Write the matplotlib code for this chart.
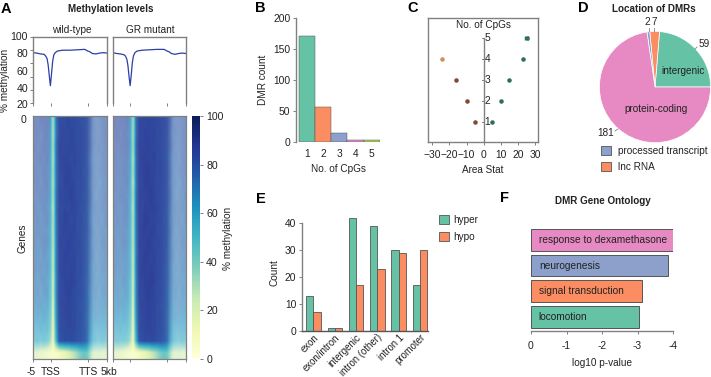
import matplotlib
matplotlib.use('Agg')
import matplotlib.pyplot as plt
from matplotlib.lines import Line2D
from matplotlib.patches import Patch
import numpy as np

W, H = 711, 377
plt.rcParams['font.family'] = ['Liberation Sans', 'DejaVu Sans']
plt.rcParams['font.size'] = 7

###############################################################################

GREEN = '#66c2a5'
ORANGE = '#fc8d62'
BLUE = '#8da0cb'
PINK = '#e78ac3'
LIME = '#a6d854'
GREY = '#808080'
EDGE = '#555555'

# Panel A: average profile, x is % of the plot width
line_x = [0, 5, 10, 15, 17, 19, 20.5, 22, 23.5, 25, 26.5, 28, 30, 33, 40, 50,
          60, 70, 74, 77, 80, 85, 90, 95, 100]
wt_line = [81, 80.5, 79.5, 79, 77, 74, 66, 53, 41, 55, 70, 78, 81, 83, 84, 84,
           84.5, 85, 83, 82, 80, 79.5, 80.5, 81, 80.5]
gr_line = [81, 80, 79.5, 78.5, 77, 73, 65, 52, 41, 54, 69, 77, 81, 83, 84, 84.5,
           85, 85, 83, 82, 80, 79, 80, 80.5, 80]
gene_ticks = [0, 23.7, 74.4, 100]

# Panel A: coarse heatmap estimates (the single-row speckle can't be read off)
wt_heat = [
    [82, 80, 84, 82, 80, 74, 30, 74, 83, 84, 83, 85, 83, 84, 83, 82, 83, 82, 82, 78, 76, 78, 80, 78],
    [80, 82, 78, 80, 80, 72, 28, 72, 83, 85, 84, 83, 85, 83, 82, 84, 83, 82, 80, 76, 78, 76, 78, 80],
    [82, 78, 80, 82, 78, 72, 30, 76, 85, 85, 83, 84, 85, 84, 83, 83, 84, 82, 82, 78, 76, 80, 76, 78],
    [78, 80, 82, 78, 80, 70, 28, 74, 84, 86, 85, 84, 83, 85, 84, 83, 83, 81, 78, 74, 76, 74, 78, 76],
    [80, 78, 78, 80, 76, 70, 30, 74, 83, 85, 85, 86, 84, 83, 83, 84, 82, 82, 80, 76, 74, 78, 76, 78],
    [78, 80, 76, 78, 78, 68, 28, 72, 83, 84, 86, 85, 85, 84, 82, 83, 83, 81, 78, 74, 76, 72, 76, 74],
    [76, 78, 80, 76, 76, 68, 30, 74, 85, 85, 84, 85, 86, 84, 83, 83, 82, 81, 80, 76, 72, 76, 74, 78],
    [78, 74, 76, 78, 74, 66, 26, 74, 83, 84, 85, 83, 85, 85, 84, 82, 83, 80, 78, 74, 76, 74, 76, 74],
    [76, 78, 74, 74, 76, 66, 28, 72, 84, 85, 86, 85, 83, 84, 83, 83, 81, 81, 76, 72, 74, 76, 72, 76],
    [74, 76, 76, 74, 72, 64, 26, 72, 83, 86, 85, 84, 85, 85, 83, 82, 82, 80, 78, 74, 72, 74, 74, 72],
    [76, 72, 74, 76, 74, 64, 26, 70, 85, 85, 84, 86, 85, 83, 84, 83, 81, 80, 76, 72, 74, 72, 76, 74],
    [72, 74, 72, 74, 70, 62, 24, 70, 83, 85, 86, 85, 84, 85, 83, 82, 82, 79, 76, 74, 70, 74, 72, 72],
    [74, 72, 74, 70, 72, 62, 24, 70, 84, 86, 85, 84, 85, 84, 83, 83, 81, 79, 74, 70, 72, 70, 74, 72],
    [72, 70, 72, 72, 68, 60, 22, 68, 83, 85, 85, 85, 86, 85, 83, 82, 81, 78, 74, 72, 70, 72, 70, 70],
    [70, 72, 68, 70, 70, 58, 22, 68, 84, 84, 85, 86, 85, 83, 83, 82, 81, 77, 72, 70, 72, 68, 72, 70],
    [68, 68, 70, 66, 66, 56, 20, 66, 83, 85, 84, 85, 84, 84, 82, 81, 80, 77, 72, 68, 68, 70, 68, 68],
    [64, 66, 64, 66, 62, 52, 18, 64, 82, 84, 84, 85, 84, 83, 82, 82, 80, 76, 70, 66, 68, 66, 66, 64],
    [60, 58, 62, 58, 58, 48, 16, 60, 82, 84, 83, 84, 84, 83, 82, 81, 80, 76, 68, 62, 60, 62, 60, 60],
    [54, 56, 52, 54, 50, 40, 14, 54, 80, 82, 83, 82, 83, 82, 81, 80, 79, 75, 64, 58, 56, 54, 56, 52],
    [20, 22, 18, 16, 14, 10, 4, 6, 8, 12, 14, 18, 24, 28, 34, 40, 44, 44, 34, 24, 22, 24, 20, 22],
]
gr_heat = [
    [84, 82, 84, 80, 82, 72, 32, 76, 85, 86, 84, 85, 85, 84, 85, 83, 84, 83, 82, 78, 78, 80, 78, 80],
    [82, 84, 80, 82, 78, 70, 30, 76, 85, 85, 86, 85, 84, 85, 83, 84, 83, 83, 80, 76, 80, 76, 80, 78],
    [80, 80, 82, 80, 80, 70, 32, 78, 86, 86, 85, 86, 85, 84, 85, 83, 84, 82, 82, 78, 76, 78, 78, 80],
    [82, 78, 80, 78, 78, 68, 28, 76, 85, 87, 86, 85, 85, 86, 84, 84, 83, 82, 78, 74, 78, 74, 80, 76],
    [78, 80, 78, 80, 76, 68, 30, 76, 85, 86, 86, 87, 85, 85, 84, 85, 83, 83, 80, 76, 74, 78, 76, 78],
    [80, 76, 78, 76, 78, 66, 26, 74, 85, 85, 87, 86, 86, 85, 83, 84, 84, 82, 78, 74, 76, 72, 78, 74],
    [76, 78, 80, 78, 74, 66, 30, 76, 86, 86, 85, 86, 87, 85, 84, 84, 83, 82, 80, 76, 72, 76, 74, 78],
    [78, 76, 76, 76, 76, 64, 26, 76, 85, 85, 86, 85, 86, 86, 85, 83, 84, 81, 78, 74, 76, 74, 76, 74],
    [76, 78, 74, 76, 74, 64, 28, 74, 85, 86, 87, 86, 85, 85, 84, 84, 82, 82, 76, 74, 74, 76, 72, 76],
    [74, 74, 76, 74, 72, 62, 26, 74, 85, 87, 86, 85, 86, 86, 84, 83, 83, 81, 78, 74, 72, 74, 74, 72],
    [76, 72, 74, 76, 72, 62, 26, 72, 86, 86, 85, 87, 86, 84, 85, 84, 82, 81, 76, 72, 74, 72, 76, 74],
    [72, 74, 72, 72, 70, 60, 24, 72, 85, 86, 87, 86, 85, 86, 84, 83, 83, 80, 76, 74, 70, 74, 72, 72],
    [74, 72, 72, 70, 70, 60, 24, 72, 85, 87, 86, 85, 86, 85, 84, 84, 82, 80, 74, 70, 72, 70, 74, 72],
    [72, 70, 70, 72, 68, 58, 22, 70, 85, 86, 86, 86, 87, 86, 84, 83, 82, 79, 74, 72, 70, 72, 70, 70],
    [70, 70, 68, 68, 68, 56, 22, 70, 85, 85, 86, 87, 86, 84, 84, 83, 82, 78, 72, 70, 72, 68, 72, 70],
    [66, 68, 68, 66, 64, 54, 20, 68, 84, 86, 85, 86, 85, 85, 83, 82, 81, 78, 72, 68, 68, 70, 68, 68],
    [64, 64, 62, 64, 60, 50, 18, 66, 83, 85, 85, 86, 85, 84, 83, 83, 81, 77, 70, 66, 68, 66, 66, 64],
    [58, 58, 60, 56, 56, 46, 16, 62, 83, 85, 84, 85, 85, 84, 83, 82, 81, 77, 68, 62, 60, 62, 60, 60],
    [52, 54, 52, 52, 48, 38, 14, 56, 81, 83, 84, 83, 84, 83, 82, 81, 80, 76, 64, 58, 56, 54, 56, 52],
    [18, 20, 18, 14, 12, 8, 4, 6, 8, 12, 14, 18, 24, 28, 34, 40, 44, 44, 34, 24, 22, 24, 20, 22],
]
# share of white (no-coverage) cells in each heatmap column
white_share = [.38, .38, .38, .36, .34, .3, .1, .12, .06, .06, .05, .05, .05, .05,
               .06, .06, .08, .1, .22, .38, .42, .42, .4, .38]

# Panel B
cpg_counts = [1, 2, 3, 4, 5]
dmr_counts = [171, 56, 14, 4, 4]

# Panel C
area_hypo = [-5, -10, -16, -24]
area_hypo_cpg = [1, 2, 3, 4]
area_hyper = [5, 10, 15, 23, 25]
area_hyper_cpg = [1, 2, 3, 4, 5]

# Panel D
pie_values = [59, 7, 2, 181]

# Panel E
region_names = ['exon', 'exon/intron', 'intergenic', 'intron (other)',
                'intron 1', 'promoter']
hyper_counts = [13, 1, 42, 39, 30, 17]
hypo_counts = [7, 1, 17, 23, 29, 30]

# Panel F
go_terms = ['locomotion', 'signal transduction', 'neurogenesis',
            'response to dexamethasone']
go_pvalues = [-3.04, -3.12, -3.87, -4.0]

###############################################################################


def px_axes(left, top, right, bottom):
    """Make axes from a box given in image pixels"""
    return fig.add_axes([left / W, 1 - bottom / H,
                         (right - left) / W, (bottom - top) / H])


def px_text(x, y, s, **kwargs):
    """Put text on the figure at an image pixel position"""
    kwargs.setdefault('ha', 'center')
    kwargs.setdefault('va', 'center')
    kwargs.setdefault('color', '#222222')
    return fig.text(x / W, 1 - y / H, s, **kwargs)


def px_line(x0, y0, x1, y1):
    """Short grey leader line, given in image pixels"""
    fig.add_artist(Line2D([x0 / W, x1 / W], [1 - y0 / H, 1 - y1 / H],
                          color=GREY, lw=0.6))


def soft_spines(ax, show, color=GREY, lw=1.0):
    for name, spine in ax.spines.items():
        spine.set_visible(name in show)
        spine.set_color(color)
        spine.set_linewidth(lw)
    ax.tick_params(color=color, width=0.7, length=2.5, labelsize=7.4, pad=1.5,
                   labelcolor='#222222')


fig = plt.figure(figsize=(W / 100, H / 100), dpi=100)

# Panel letters
for letter, x, y in [('A', 6, 9), ('B', 260, 8), ('C', 413, 8), ('D', 583, 8),
                     ('E', 261, 199), ('F', 505, 198)]:
    px_text(x, y, letter, fontsize=10.5, fontweight='bold', color='black')

###############################################################################
# Panel A

px_text(111, 9, 'Methylation levels', fontsize=7.1, fontweight='bold')
px_text(72, 30, 'wild-type', fontsize=7.2)
px_text(150, 30, 'GR mutant', fontsize=7.2)

for ii, (box, prof) in enumerate([((33, 37, 107, 103), wt_line),
                                  ((113, 37, 186, 103), gr_line)]):
    ax = px_axes(*box)
    ax.plot(line_x, prof, color='#2b3fa8', lw=0.9)
    ax.set_xlim(0, 100)
    ax.set_ylim(20, 100)
    ax.set_xticks(gene_ticks)
    ax.set_xticklabels([])
    ax.set_yticks([100, 84, 68, 52, 36, 20] if ii == 0 else [])
    ax.set_yticklabels([])
    soft_spines(ax, ['left', 'top', 'right'])

# These labels don't sit on the ticks in the original
for lab, y in [('100', 37), ('80', 54), ('60', 72), ('40', 89), ('20', 105)]:
    px_text(28, y, lab, ha='right', fontsize=7.6)
px_text(5, 80, '% methylation', rotation=90, fontsize=7.2)

alpha_row = 1 - np.array(white_share)
for ii, (box, heat) in enumerate([((33, 116, 107, 359), wt_heat),
                                  ((113, 116, 186, 359), gr_heat)]):
    ax = px_axes(*box)
    heat = np.array(heat)
    im = ax.imshow(heat, cmap='YlGnBu', vmin=0, vmax=100, aspect='auto',
                   extent=[0, 100, 100, 0], interpolation='bilinear',
                   alpha=np.tile(alpha_row, (heat.shape[0], 1)))
    ax.set_xticks(gene_ticks)
    ax.set_xticklabels([])
    ax.set_yticks([])
    soft_spines(ax, ['left', 'top', 'right', 'bottom'], lw=0.9)

for lab, x in [('-5', 31), ('TSS', 51), ('TTS', 88), ('5kb', 109)]:
    px_text(x, 372, lab, fontsize=7.4)
px_text(23, 120, '0', fontsize=7.6)
px_text(22, 238, 'Genes', rotation=90, fontsize=7.2)

cax = px_axes(192, 116, 200, 359)
sm = plt.cm.ScalarMappable(cmap='YlGnBu', norm=plt.Normalize(0, 100))
cbar = fig.colorbar(sm, cax=cax)
cbar.set_ticks([0, 20, 40, 60, 80, 100])
cbar.outline.set_visible(False)
cax.tick_params(color=GREY, width=0.7, length=2, labelsize=7.6, pad=2.5,
                labelcolor='#222222')
px_text(228, 238, '% methylation', rotation=90, fontsize=7.2)

###############################################################################
# Panel B

ax = px_axes(296, 18, 380, 142)
ax.bar(cpg_counts, dmr_counts, width=1, color=[GREEN, ORANGE, BLUE, PINK, LIME],
       edgecolor=EDGE, linewidth=0.35)
ax.set_xlim(0.345, 5.5)
ax.set_ylim(0, 200)
ax.set_xticks(cpg_counts)
ax.set_yticks([0, 50, 100, 150, 200])
soft_spines(ax, ['left'])
ax.tick_params(axis='x', length=0, pad=5)
ax.set_xlabel('No. of CpGs', fontsize=7.2, labelpad=4, color='#222222')
ax.set_ylabel('DMR count', fontsize=7.2, labelpad=4, color='#222222')

###############################################################################
# Panel C

ax = px_axes(428, 18, 538, 142)
ax.axvline(0, ymax=0.839, color=GREY, lw=1.0, zorder=1)
for yy in area_hyper_cpg:
    ax.plot([-1.2, 0], [yy, yy], color=GREY, lw=0.7)
    ax.text(0.6, yy, str(yy), ha='left', va='center', fontsize=7.4,
            color='#222222')
ax.scatter(area_hypo[:3], area_hypo_cpg[:3], s=5, color='#7f4a35', zorder=3)
ax.scatter(area_hypo[3:], area_hypo_cpg[3:], s=5, color='#d98a5a', zorder=3)
ax.scatter(area_hyper, area_hyper_cpg, s=5, color='#2c6e60', zorder=3)
ax.errorbar(area_hyper[-1], area_hyper_cpg[-1], xerr=1, color='#2c6e60',
            capsize=1.2, lw=0.6)
ax.set_xlim(-32.4, 31.6)
ax.set_ylim(0.05, 5.95)
ax.set_xticks([-30, -20, -10, 0, 10, 20, 30])
ax.set_yticks([])
soft_spines(ax, ['left', 'top', 'right', 'bottom'], lw=1.0)
ax.tick_params(axis='x', pad=3)
ax.set_xlabel('Area Stat', fontsize=7.2, labelpad=4, color='#222222')
ax.text(0, 5.62, 'No. of CpGs', ha='center', va='center', fontsize=7.2,
        color='#222222')

###############################################################################
# Panel D

px_text(654, 9, 'Location of DMRs', fontsize=7.1, fontweight='bold')
ax = px_axes(599, 31, 711, 143)
ax.pie(pie_values, colors=[GREEN, ORANGE, BLUE, PINK], startangle=0,
       radius=1, center=(0, 0), wedgeprops={'edgecolor': 'white', 'lw': 0.5})
ax.set_xlim(-1.007, 1.007)
ax.set_ylim(-1.007, 1.007)
px_text(683, 71, 'intergenic', fontsize=7.2)
px_text(656, 109, 'protein-coding', fontsize=7.2)
px_text(704, 44, '59', fontsize=7.2)
px_text(647, 22, '2', fontsize=7.2)
px_text(654, 22, '7', fontsize=7.2)
px_text(606, 133, '181', fontsize=7.2)
px_line(695, 49, 697, 47)
px_line(649, 28, 649, 31)
px_line(654, 28, 654, 31)
px_line(615, 131, 618, 129)
fig.legend(handles=[Patch(facecolor=BLUE, edgecolor=EDGE, lw=0.6,
                          label='processed transcript'),
                    Patch(facecolor=ORANGE, edgecolor=EDGE, lw=0.6,
                          label='lnc RNA')],
           loc='upper left', bbox_to_anchor=(601 / W, 1 - 146 / H),
           frameon=False, fontsize=7.2, handlelength=0.95, handleheight=1.0,
           handletextpad=0.75, labelspacing=0.6, borderpad=0, borderaxespad=0,
           labelcolor='#222222')

###############################################################################
# Panel E

ax = px_axes(302, 215, 428, 331)
xs = np.arange(len(region_names))
ax.bar(xs - 0.17, hyper_counts, width=0.34, color=GREEN, edgecolor=EDGE,
       linewidth=0.6, label='hyper')
ax.bar(xs + 0.17, hypo_counts, width=0.34, color=ORANGE, edgecolor=EDGE,
       linewidth=0.6, label='hypo')
ax.set_xlim(-0.54, 5.38)
ax.set_ylim(0, 43)
ax.set_yticks([0, 10, 20, 30, 40])
ax.set_xticks(xs)
ax.set_xticklabels(region_names, rotation=45, ha='right', rotation_mode='anchor',
                   fontsize=7)
soft_spines(ax, ['left', 'bottom'])
ax.spines['left'].set_bounds(0, 40)
ax.spines['bottom'].set_color(EDGE)
ax.tick_params(axis='x', length=0, pad=1, labelsize=6.9)
ax.set_ylabel('Count', fontsize=7.2, labelpad=4, color='#222222')
fig.legend(*ax.get_legend_handles_labels(), loc='upper left',
           bbox_to_anchor=(439 / W, 1 - 215 / H), frameon=False, fontsize=7.2,
           handlelength=0.95, handleheight=1.0, handletextpad=0.45,
           labelspacing=0.65, borderpad=0, borderaxespad=0,
           labelcolor='#222222')

###############################################################################
# Panel F

px_text(603, 201, 'DMR Gene Ontology', fontsize=7.1, fontweight='bold')
ax = px_axes(531, 227, 673, 331)
ys = np.arange(len(go_terms))
ax.barh(ys, go_pvalues, height=0.84, color=[GREEN, ORANGE, BLUE, PINK],
        edgecolor=EDGE, linewidth=0.7)
for yy, term in zip(ys, go_terms):
    ax.text(-0.22, yy, term, ha='left', va='center', fontsize=7.3, color='#222222')
ax.set_xlim(0, -4)
ax.set_ylim(-0.55, 3.5)
ax.set_xticks([0, -1, -2, -3, -4])
ax.set_xticklabels(['0', '-1', '-2', '-3', '-4'])
ax.set_yticks([])
soft_spines(ax, ['bottom'])
ax.tick_params(axis='x', pad=5)
ax.set_xlabel('log10 p-value', fontsize=7.2, labelpad=5, color='#222222')

fig.savefig('out.png', dpi=100)
